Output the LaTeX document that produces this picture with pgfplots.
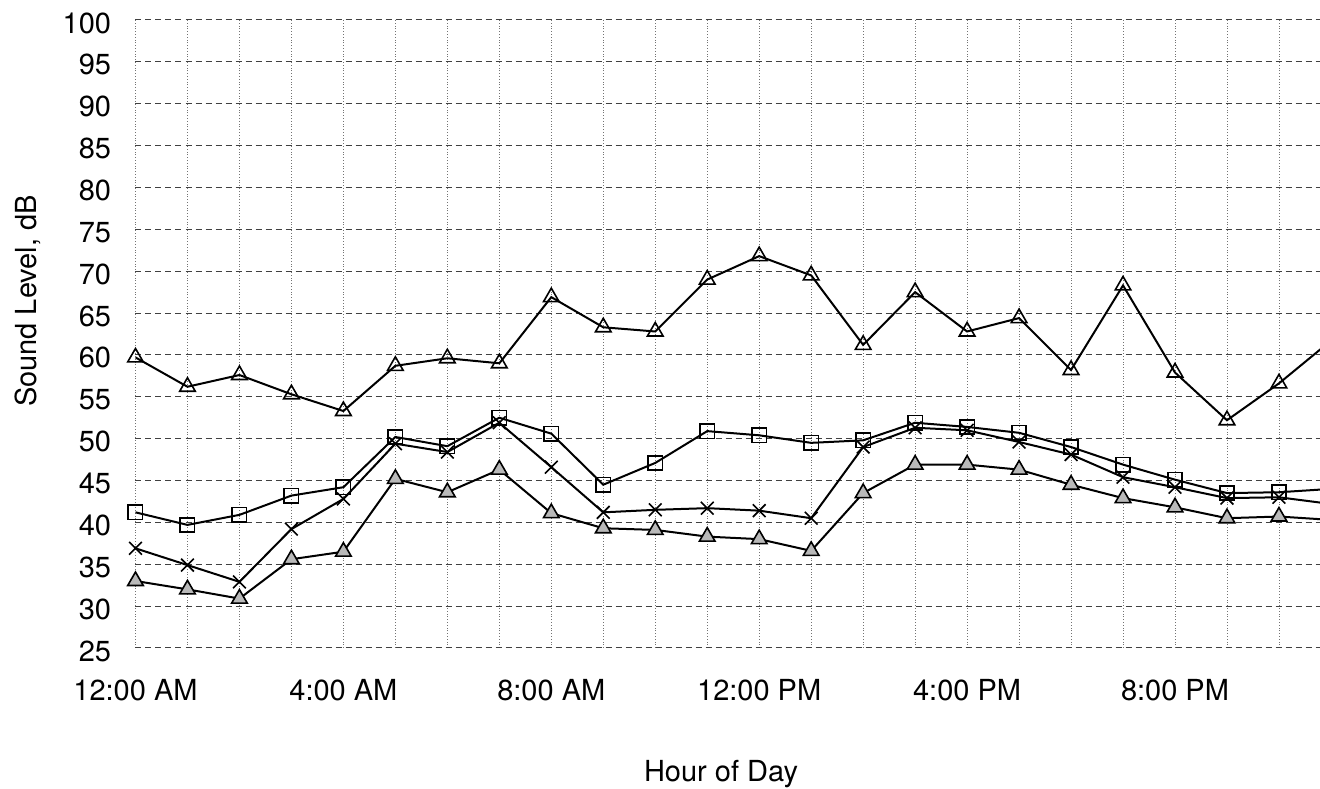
\documentclass[border=0pt]{standalone}
\usepackage{fontspec}
\setmainfont{TeX Gyre Heros}
\usepackage{pgfplots}
\pgfplotsset{compat=1.18}
\usepackage{pgfplotstable}
\usetikzlibrary{calc}

\pgfplotstableread{
h top sq cr low
0 59.7 41.2 36.9 33.0
1 56.2 39.7 34.9 32.0
2 57.6 40.9 32.9 30.9
3 55.3 43.2 39.2 35.6
4 53.3 44.2 42.8 36.5
5 58.7 50.2 49.4 45.2
6 59.6 49.1 48.4 43.6
7 59.0 52.5 51.9 46.3
8 66.9 50.6 46.6 41.1
9 63.3 44.5 41.2 39.3
10 62.8 47.1 41.5 39.1
11 69.0 50.9 41.7 38.3
12 71.8 50.4 41.4 38.0
13 69.5 49.5 40.5 36.6
14 61.2 49.8 49.0 43.5
15 67.5 51.9 51.3 46.9
16 62.8 51.4 51.0 46.9
17 64.4 50.7 49.6 46.3
18 58.2 49.0 48.1 44.5
19 68.3 46.9 45.4 42.9
20 57.9 45.1 44.2 41.8
21 52.2 43.5 42.9 40.5
22 56.6 43.6 43.0 40.7
23 61.7 44.0 42.2 40.3
}\data

\begin{document}
\fontsize{14.5}{17}\selectfont
\begin{tikzpicture}
\begin{axis}[name=ax, scale only axis, width=592.25pt, height=314pt,
  xmin=0, xmax=22.79, ymin=25, ymax=100,
  xtick={0,4,...,20},
  xticklabels={12:00 AM,4:00 AM,8:00 AM,12:00 PM,4:00 PM,8:00 PM},
  minor xtick={0,...,22},
  ytick={25,30,...,100},
  xmajorgrids=false, xminorgrids=true, ymajorgrids=true,
  major grid style={black!75, line width=0.5pt, densely dashed},
  minor grid style={black!55, line width=0.4pt, densely dotted},
  axis line style={draw=none},
  tick style={draw=none}, major tick length=0pt, minor tick length=0pt,
  xticklabel style={anchor=north, inner sep=0pt, yshift=-15.5pt},
  yticklabel style={anchor=east, inner sep=0pt, xshift=-12pt, yshift=-1.5pt},
  /pgf/number format/assume math mode=true,
  clip mode=individual,
]
\addplot[black, line width=1pt, mark=triangle, mark size=4.5pt,
  mark options={fill=white, line width=0.8pt}] table[x=h, y=top]{\data};
\addplot[black, line width=1pt, mark=triangle*, mark size=4.5pt,
  mark options={fill=gray!55, draw=black, line width=0.8pt}] table[x=h, y=low]{\data};
\addplot[black, line width=1pt, mark=x, mark size=4.5pt,
  mark options={line width=0.8pt}] table[x=h, y=cr]{\data};
\addplot[black, line width=1pt, mark=square, mark size=3.6pt,
  mark options={fill=white, line width=0.8pt}] table[x=h, y=sq]{\data};
\end{axis}
\node[rotate=90, anchor=base] at ($(ax.west)+(-49.25pt,16.5pt)$) {Sound Level, dB};
\node[anchor=base] at ($(ax.south west)+(292.75pt,-67pt)$) {Hour of Day};
\pgfresetboundingbox
\path ($(ax.south west)+(-67.75pt,-70.5pt)$) rectangle ($(ax.north east)+(0,10pt)$);
\end{tikzpicture}
\end{document}
